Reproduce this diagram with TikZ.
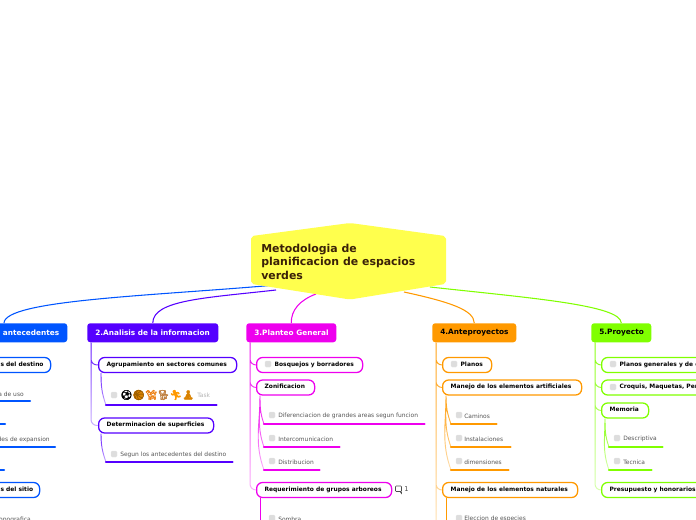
\documentclass[tikz,border=0pt]{standalone}
\usepackage{fontspec}
\setmainfont{DejaVu Sans}
\newfontfamily\emo[FakeBold=2.2]{Noto Emoji}
\newfontfamily\emolight[FakeBold=.8]{Noto Emoji}
\usetikzlibrary{fadings}
\definecolor{cblue}{HTML}{0055FF}
\definecolor{cpurple}{HTML}{5500FF}
\definecolor{cmag}{HTML}{EE00EE}
\definecolor{corange}{HTML}{FF9900}
\definecolor{cgreen}{HTML}{80FF00}
\definecolor{cyel}{HTML}{FFFF4D}
\definecolor{croot}{HTML}{3A2108}
\definecolor{cleaf}{HTML}{555555}
\definecolor{cchk}{HTML}{DDDDDD}
\tikzfading[name=conn fade, top color=transparent!5, bottom color=transparent!70]
\tikzset{
 x=.75pt,y=-.75pt,
 rootbox/.style={fill=cyel,draw=cyel,line width=1.5pt,line join=round},
 roottext/.style={inner sep=0,anchor=north west,align=left,text=croot,font=\fontsize{8.2pt}{10.1pt}\selectfont\bfseries},
 topbox/.style={rounded corners=2.2pt,inner sep=0,anchor=north west,minimum height=14.25pt,font=\fontsize{5.5pt}{6pt}\selectfont\bfseries},
 subbox/.style={draw=#1,line width=.95pt,fill=white,rounded corners=4.5pt,inner sep=0,anchor=west,minimum height=11.25pt,font=\fontsize{4.45pt}{6pt}\selectfont\bfseries,text height=3.1pt,text depth=1pt},
 chk/.style={fill=cchk,draw=cchk!70!white,line width=.2pt,rounded corners=.8pt,minimum size=4.5pt,inner sep=0},
 leaftext/.style={inner sep=0,anchor=west,text=cleaf,font=\fontsize{4.45pt}{6pt}\selectfont},
 under/.style={draw=#1,line width=1.7pt,line cap=round},
 branch/.style={draw=#1,line width=.75pt,rounded corners=4.5pt,path fading=conn fade,fit fading=true},
 twig/.style={draw=#1,line width=.7pt,path fading=conn fade,fit fading=true},
 rootlink/.style={draw=#1,line width=.8pt},
}
% name, x1, x2, y centre, left inset, text, colour
\newcommand\subn[7]{%
 \pgfmathsetmacro\mywd{(#3-(#2))*.75}%
 \pgfmathsetmacro\myin{#5*.75}%
 \node[subbox=#7,minimum width=\mywd pt] (#1) at (#2,#4) {\makebox[\mywd pt][l]{\hspace*{\myin pt}#6}};}
% name, x1, x2, y line, y text, text offset, text, colour
\newcommand\leafn[8]{%
 \pgfmathsetmacro\mywd{(#3-(#2))*.75}%
 \node[inner sep=0,minimum width=\mywd pt,minimum height=2pt,anchor=south west] (#1) at (#2,#4) {};
 \draw[under=#8] (#1.south west) -- (#1.south east);
 \node[chk] (#1c) at (#2+8,#5) {};
 \node[leaftext] (#1t) at (#2+#6,#5+1) {#7};}
\begin{document}
\begin{tikzpicture}
\useasboundingbox (0,0) rectangle (696,520);
\clip (0,0) rectangle (696,520);
% top boxes
\node[topbox,fill=cblue,text=white,minimum width=95.25pt] (t1) at (-60,323) {\makebox[95.25pt][l]{\raisebox{-.5pt}{\hspace*{47pt}antecedentes}}};
\node[topbox,fill=cpurple,text=white,minimum width=98.25pt] (t2) at (87,323) {\makebox[98.25pt][l]{\raisebox{-.5pt}{\hspace*{6pt}2.Analisis de la informacion}}};
\node[topbox,fill=cmag,text=white,minimum width=67.5pt] (t3) at (246,323) {\makebox[67.5pt][l]{\raisebox{-.5pt}{\hspace*{6pt}3.Planteo General}}};
\node[topbox,fill=corange,text=black,minimum width=63pt] (t4) at (432,323) {\makebox[63pt][l]{\raisebox{-.5pt}{\hspace*{6pt}4.Anteproyectos}}};
\node[topbox,fill=cgreen,text=black,minimum width=45pt] (t5) at (591,323) {\makebox[45pt][l]{\raisebox{-.5pt}{\hspace*{6pt}5.Proyecto}}};
% root shape position
\coordinate (rl) at (276,285);
\coordinate (rp) at (276,290);
\coordinate (rm) at (316,294);
\coordinate (ro) at (404,292);
\coordinate (rg) at (430,287);
\draw[rootlink=cblue] (rl) .. controls (150,296) and (5,300) .. ([xshift=48pt]t1.north west);
\draw[rootlink=cpurple] (rp) .. controls (205,298) and (153,300) .. (t2.north);
\draw[rootlink=cmag] (rm) .. controls (300,300) and (291,310) .. (t3.north);
\draw[rootlink=corange] (ro) .. controls (450,302) and (474,310) .. (t4.north);
\draw[rootlink=cgreen] (rg) .. controls (530,298) and (621,305) .. (t5.north);
\path[rootbox,rounded corners=1.5pt] (252,237) -- (350,224) -- (445,237) -- (445,283) -- (350,298.5) -- (252,283) -- cycle;
\node[roottext] (root) at (261,243.5) {Metodologia de\\planificacion de espacios\\verdes};
% column 1 (cut by the left edge)
\subn{a1}{-60}{50}{365}{60}{\hfill s del destino\hspace*{8pt}}{cblue}
\subn{a2}{-60}{39}{490}{60}{\hfill s del sitio\hspace*{8pt}}{cblue}
\node[leaftext,anchor=east] (a1t) at (24,394) {a de uso};
\node[inner sep=0,minimum width=60pt,minimum height=2pt,anchor=south east] (a1l) at (30,401) {};
\draw[under=cblue] (a1l.south west) -- (a1l.south east);
\node[inner sep=0,minimum width=60pt,minimum height=2pt,anchor=south east] (a2l) at (5,424) {};
\draw[under=cblue] (a2l.south west) -- (a2l.south east);
\node[leaftext,anchor=east] (a3t) at (50,440) {des de expansion};
\node[inner sep=0,minimum width=60pt,minimum height=2pt,anchor=south east] (a3l) at (55,447) {};
\draw[under=cblue] (a3l.south west) -- (a3l.south east);
\node[inner sep=0,minimum width=60pt,minimum height=2pt,anchor=south east] (a4l) at (4,470) {};
\draw[under=cblue] (a4l.south west) -- (a4l.south east);
\node[leaftext,anchor=east] (a5t) at (31,520) {opografica};
% column 2
\subn{b1}{98}{236}{365}{8}{Agrupamiento en sectores comunes}{cpurple}
\subn{b2}{98}{213}{425.5}{8}{Determinacion de superficies}{cpurple}
\draw[branch=cpurple] ([xshift=3pt]t2.south west) |- (b1.west) ([xshift=3pt]t2.south west) |- (b2.west);
\leafn{b3}{106}{216}{405}{395}{14}{}{cpurple}
\node[circle,fill=corange!85!black,inner sep=0,minimum size=8pt] (basket) at (138.5,395) {};
\node[inner sep=0,anchor=west,font=\fontsize{7.3pt}{9pt}\selectfont] (emo) at (120,395) {\textcolor{black}{\emolight ⚽}\textcolor{corange!60!black}{\emolight 🏀}\textcolor{orange!70!brown}{\emo 🦮}\textcolor{brown}{\emo 🐕}\textcolor{corange}{\emo 🏃}\textcolor{corange!85!black}{\emo 🧘}};
\node[leaftext,text=black!30] (task) at (197,395) {Task};
\leafn{b4}{106}{232}{462}{454}{14}{Segun los antecedentes del destino}{cpurple}
\draw[twig=cpurple] ([xshift=2.25pt]b1.south west) to[out=-90,in=110] (b3.south west);
\draw[twig=cpurple] ([xshift=2.25pt]b2.south west) to[out=-90,in=110] (b4.south west);
% column 3
\subn{c1}{256}{362}{365}{18}{Bosquejos y borradores}{cmag}
\subn{c2}{256}{314}{387.5}{8}{Zonificacion}{cmag}
\subn{c3}{256}{391}{490}{8}{Requerimiento de grupos arboreos}{cmag}
\node[chk] (c1c) at (268,364) {};
\draw[branch=cmag] ([xshift=3pt]t3.south west) |- (c1.west) ([xshift=3pt]t3.south west) |- (c2.west) ([xshift=3pt]t3.south west) |- (c3.west);
\leafn{c4}{264}{424}{424}{415}{14}{Diferenciacion de grandes areas segun funcion}{cmag}
\leafn{c5}{264}{339}{447}{438}{14}{Intercomunicacion}{cmag}
\leafn{c6}{264}{319}{470}{461}{14}{Distribucion}{cmag}
\draw[twig=cmag] ([xshift=3pt]c2.south west) to[out=-90,in=110] (c4.south west) ([xshift=3pt]c2.south west) to[out=-90,in=110] (c5.south west) ([xshift=3pt]c2.south west) to[out=-90,in=110] (c6.south west);
\node[chk] (c7c) at (272,518) {};
\node[leaftext] (c7t) at (278,519) {Sombra};
\draw[draw=cmag,line width=.7pt] ([xshift=3pt]c3.south west) -- (260,520);
\node[inner sep=0,font=\fontsize{5pt}{6pt}\selectfont,text=black!70,anchor=west] (c3n) at (404,489.5) {1};
\draw[black!70,line width=.4pt,rounded corners=.5pt] (395.5,486) rectangle (401.5,491.5);
\draw[black!70,line width=.4pt] (400,491.5) -- (401.5,493.5) -- (401.5,491.5);
% column 4
\subn{d1}{442}{491}{365}{18}{Planos}{corange}
\subn{d2}{442}{581}{387.5}{8}{Manejo de los elementos artificiales}{corange}
\subn{d3}{442}{577}{490}{8}{Manejo de los elementos naturales}{corange}
\node[chk] (d1c) at (454,364) {};
\coordinate (d0) at (436,520);
\draw[branch=corange] ([xshift=3pt]t4.south west) |- (d1.west) ([xshift=3pt]t4.south west) |- (d2.west) ([xshift=3pt]t4.south west) |- (d3.west) ([xshift=3pt]t4.south west) -- (d0);
\leafn{d4}{451}{496}{424}{415}{13}{Caminos}{corange}
\leafn{d5}{451}{510}{447}{438}{13}{Instalaciones}{corange}
\leafn{d6}{451}{508}{470}{461}{13}{dimensiones}{corange}
\draw[twig=corange] ([xshift=3pt]d2.south west) to[out=-90,in=110] (d4.south west) ([xshift=3pt]d2.south west) to[out=-90,in=110] (d5.south west) ([xshift=3pt]d2.south west) to[out=-90,in=110] (d6.south west);
\node[chk] (d7c) at (459,518) {};
\node[leaftext] (d7t) at (464,519) {Eleccion de especies};
\draw[draw=corange,line width=.7pt] ([xshift=3pt]d3.south west) -- (446,520);
% column 5
\subn{e1}{601}{760}{365}{18}{Planos generales y de detalle}{cgreen}
\subn{e2}{601}{760}{387.5}{18}{Croquis, Maquetas, Perspectivas}{cgreen}
\subn{e3}{601}{648}{410.5}{8}{Memoria}{cgreen}
\subn{e4}{601}{760}{490}{8}{Presupuesto y honorarios}{cgreen}
\node[chk] (e1c) at (613,364) {};
\node[chk] (e2c) at (613,387) {};
\draw[branch=cgreen] ([xshift=3pt]t5.south west) |- (e1.west) ([xshift=3pt]t5.south west) |- (e2.west) ([xshift=3pt]t5.south west) |- (e3.west) ([xshift=3pt]t5.south west) |- (e4.west);
\leafn{e5}{609}{662}{447}{438}{14}{Descriptiva}{cgreen}
\leafn{e6}{609}{651}{470}{461}{14}{Tecnica}{cgreen}
\draw[twig=cgreen] ([xshift=3pt]e3.south west) to[out=-90,in=110] (e5.south west) ([xshift=3pt]e3.south west) to[out=-90,in=110] (e6.south west);
\end{tikzpicture}
\end{document}
